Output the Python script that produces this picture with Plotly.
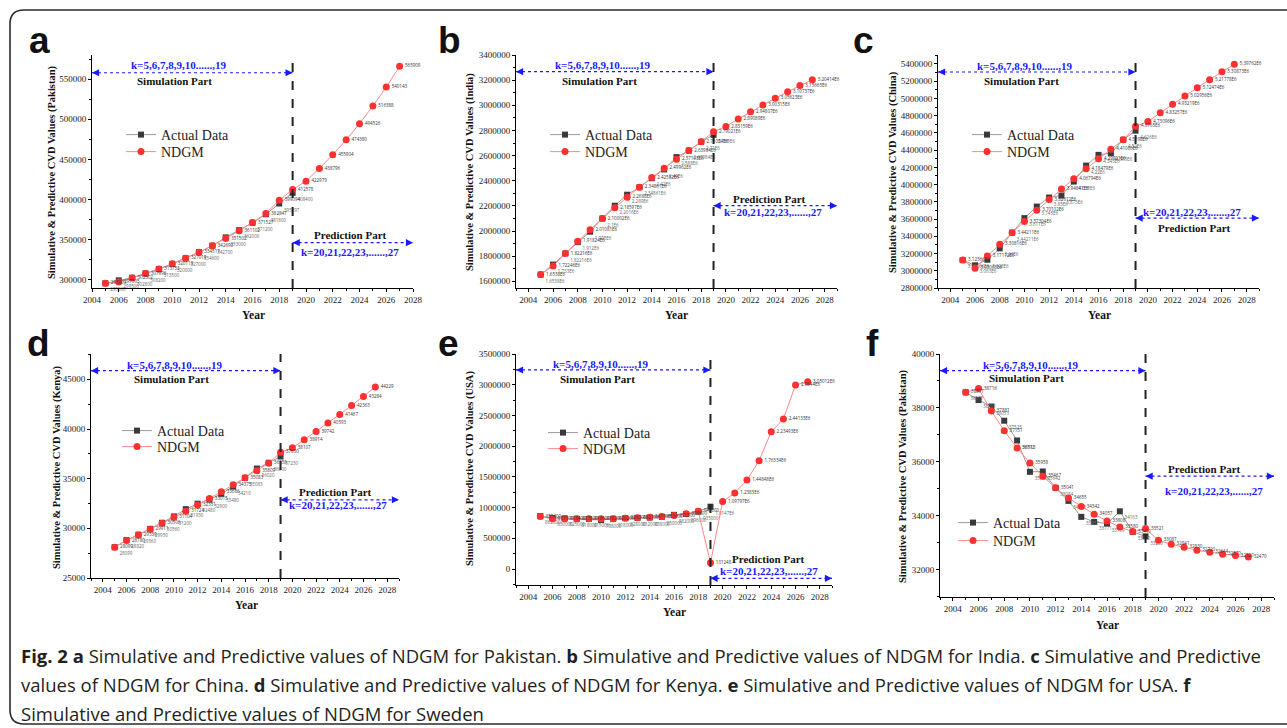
import plotly.graph_objects as go

W, H = 1287, 728

# ---------------- data ----------------
years_sim = list(range(2005, 2020))
years_all = list(range(2005, 2028))

pak_actual = [295800, 299500, 302800, 308200, 313500, 320000, 327000, 334600,
              342700, 353000, 362000, 371200, 381800, 395197, 408400]
pak_ndgm = [295800, 297505, 302502, 307996, 313753, 320113, 327019, 334517,
            342690, 351502, 361102, 371527, 382847, 399094, 412578, 422979,
            438796, 455904, 474380, 494526, 516388, 540143, 565909]

ind_actual = [1653800, 1733000, 1822160, 1912000, 1995000, 2100000, 2201600,
              2289000, 2348610, 2420000, 2490000, 2588000, 2639840, 2710000, 2765000]
ind_ndgm = [1653800, 1722460, 1822160, 1918240, 2010810, 2100020, 2185970,
            2268800, 2348610, 2425520, 2499620, 2571030, 2639840, 2710540,
            2790210, 2831590, 2890890, 2948070, 3003150, 3056230, 3107370,
            3156650, 3204140]

chn_actual = [3123660, 3063000, 3128000, 3260000, 3442110, 3611000, 3745000,
              3850000, 3873000, 4035000, 4220000, 4345000, 4365000, 4520000, 4626000]
chn_ndgm = [3123660, 3030630, 3171120, 3308160, 3442110, 3573040, 3701020,
            3826120, 3948410, 4067940, 4184790, 4299010, 4410660, 4519800,
            4676500, 4730960, 4832570, 4932190, 5029560, 5124740, 5217780,
            5308730, 5397620]

ken_actual = [28099, 28820, 29360, 29950, 30560, 31200, 31930, 32480, 32900,
              33480, 34210, 35083, 36020, 36600, 37230]
ken_ndgm = [28099, 28780, 29339, 29911, 30506, 31104, 31724, 32351, 33015,
            33686, 34375, 35083, 35809, 36558, 37650, 38107, 38914, 39742,
            40593, 41467, 42363, 43284, 44229]

usa_actual = [862000, 830000, 825000, 818000, 815000, 798000, 818000, 828000,
              832000, 838000, 850000, 882000, 896000, 935000, 1014700]
usa_ndgm = [855400, 817300, 818400, 817800, 818600, 818200, 820200, 826300,
            832700, 841700, 853600, 870500, 898600, 940600, 101248, 1097970,
            1238300, 1448480, 1763340, 2234930, 2441330, 2994400, 3050120]

swe_actual = [38577, 38291, 38053, 37525, 36792, 35628, 35642, 35034, 34550,
              33957, 33771, 33709, 34163, 33400, 33233]
swe_ndgm = [38577, 38716, 37881, 37151, 36513, 35958, 35467, 35041, 34655,
            34342, 34057, 33808, 33580, 33410, 33521, 33087, 32941, 32830,
            32720, 32644, 32570, 32520, 32470]

sim_text = "k=5,6,7,8,9,10......,19"
pred_text = "k=20,21,22,23,......,27"

# ---------------- layout config (pixels / data units) ----------------
panels = [
    dict(letter="a", country="Pakistan", actual=pak_actual, ndgm=pak_ndgm, sci=False,
         dom_x=(92, 413), dom_y=(55, 288), xr=(2004, 2028), yr=(290000, 580000),
         ytick0=300000, ydtick=50000, letter_xy=(39, 40),
         ytitle_xy=(52, 172), year_xy=(253, 315),
         sim_y=557900, sim_k=(2010.45, 567400), sim_p=(2010.2, 548000),
         pred_y=346400, pred_p=(2023.35, 356000), pred_k=(2023.3, 334400),
         legend_x=158, legend_y=(135, 152)),
    dict(letter="b", country="India", actual=ind_actual, ndgm=ind_ndgm, sci=True,
         dom_x=(516, 837), dom_y=(55, 288), xr=(2003, 2029), yr=(1547000, 3400000),
         ytick0=1600000, ydtick=200000, letter_xy=(449, 40),
         ytitle_xy=(470, 172), year_xy=(676, 315),
         sim_y=3267700, sim_k=(2009.97, 3320600), sim_p=(2009.76, 3196000),
         pred_y=2201600, pred_p=(2023.57, 2257000), pred_k=(2023.8, 2151000),
         legend_x=582, legend_y=(135, 152)),
    dict(letter="c", country="China", actual=chn_actual, ndgm=chn_ndgm, sci=True,
         dom_x=(938, 1259), dom_y=(55, 288), xr=(2003, 2029), yr=(2800000, 5504000),
         ytick0=2800000, ydtick=200000, letter_xy=(863, 40),
         ytitle_xy=(893, 172), year_xy=(1099, 315),
         sim_y=5307000, sim_k=(2010.0, 5380700), sim_p=(2009.74, 5207000),
         pred_y=3611000, pred_p=(2023.77, 3499000), pred_k=(2023.6, 3677000),
         legend_x=1004, legend_y=(135, 152)),
    dict(letter="d", country="Kenya", actual=ken_actual, ndgm=ken_ndgm, sci=False,
         dom_x=(91, 399), dom_y=(354, 578), xr=(2003, 2029), yr=(25000, 47550),
         ytick0=25000, ydtick=5000, letter_xy=(38, 343),
         ytitle_xy=(57, 467), year_xy=(246, 605),
         sim_y=45871, sim_k=(2010.03, 46440), sim_p=(2009.8, 45033),
         pred_y=32873, pred_p=(2023.6, 33610), pred_k=(2023.85, 32303),
         legend_x=154, legend_y=(431, 447)),
    dict(letter="e", country="USA", actual=usa_actual, ndgm=usa_ndgm, sci=True,
         dom_x=(516, 832), dom_y=(354, 585), xr=(2003, 2029), yr=(-260000, 3500000),
         ytick0=0, ydtick=500000, letter_xy=(448, 343),
         ytitle_xy=(470, 469), year_xy=(674, 612),
         sim_y=3240000, sim_k=(2009.94, 3337000), sim_p=(2009.72, 3088000),
         pred_y=-152000, pred_p=(2023.75, 157000), pred_k=(2023.78, -27000),
         legend_x=580, legend_y=(433, 449)),
    dict(letter="f", country="Pakistan", actual=swe_actual, ndgm=swe_ndgm, sci=False,
         dom_x=(940, 1274), dom_y=(354, 597), xr=(2003, 2029), yr=(30984, 40000),
         ytick0=32000, ydtick=2000, letter_xy=(872, 343),
         ytitle_xy=(903, 476), year_xy=(1107, 625),
         sim_y=39381, sim_k=(2010.03, 39591), sim_p=(2009.77, 39121),
         pred_y=35467, pred_p=(2023.6, 35715), pred_k=(2024.3, 34922),
         legend_x=990, legend_y=(523, 541)),
]

SERIF = "Liberation Serif, Times New Roman, serif"
BLUE = "#1a1aff"
LEG_DX = 37   # legend box left -> text start (px)
LEG_DY = 16   # legend box top -> item centre (px)


def px(x):
    return x / W


def py(y):
    return 1 - y / H


def fmt(v, sci):
    if sci and v >= 1e6:
        return f"{v / 1e6:.6g}E6"
    return f"{v:.0f}"


fig = go.Figure()
shapes, annotations = [], []
layout = {}
leg_n = 0
n_pan = len(panels)

for i, p in enumerate(panels, start=1):
    sfx = "" if i == 1 else str(i)
    xa, ya = f"x{sfx}", f"y{sfx}"

    series = [
        ("Actual Data", years_sim, p["actual"], "bottom right",
         dict(color="#9a9a9a", width=1), dict(symbol="square", size=6, color="#3a3a3a"), "#666"),
        ("NDGM", years_all, p["ndgm"], "middle right",
         dict(color="#ff8a8a", width=1), dict(symbol="circle", size=7, color="#ff3030"), "#333"),
    ]
    for j, (name, xs, ys, tpos, line, marker, tcol) in enumerate(series):
        leg_n += 1
        leg = "legend" if leg_n == 1 else f"legend{leg_n}"
        fig.add_trace(go.Scatter(
            x=xs, y=ys, mode="lines+markers+text", name=name,
            text=[fmt(v, p["sci"]) for v in ys], textposition=tpos,
            textfont=dict(size=4.5, color=tcol), line=line, marker=marker,
            xaxis=xa, yaxis=ya, legend=leg, cliponaxis=False, showlegend=True))
        layout[leg] = dict(
            x=px(p["legend_x"] - LEG_DX), y=py(p["legend_y"][j] - LEG_DY),
            xanchor="left", yanchor="top", bgcolor="rgba(0,0,0,0)", borderwidth=0,
            font=dict(family=SERIF, size=14, color="#222"), itemwidth=30)

    base = dict(showline=True, linecolor="black", linewidth=1, showgrid=False,
                zeroline=False, automargin=False, tickcolor="black",
                tickfont=dict(family=SERIF, size=9, color="#222"))
    xdom = [px(p["dom_x"][0]), px(p["dom_x"][1])]
    ydom = [py(p["dom_y"][1]), py(p["dom_y"][0])]
    # bottom / left axes: outward ticks with labels
    layout[f"xaxis{sfx}"] = dict(
        domain=xdom, range=list(p["xr"]), anchor=ya, tick0=2004, dtick=2,
        ticks="outside", ticklen=3,
        minor=dict(ticks="outside", ticklen=2, dtick=1, tickcolor="black"), **base)
    layout[f"yaxis{sfx}"] = dict(
        domain=ydom, range=list(p["yr"]), anchor=xa, tick0=p["ytick0"], dtick=p["ydtick"],
        tickformat="d", ticks="outside", ticklen=3,
        minor=dict(ticks="outside", ticklen=2, dtick=p["ydtick"] / 2, tickcolor="black"),
        **base)
    # top / right frame axes: inward ticks, no labels
    k = i + n_pan
    layout[f"xaxis{k}"] = dict(
        domain=xdom, range=list(p["xr"]), anchor=ya, overlaying=xa, side="top",
        tick0=2004, dtick=2, ticks="inside", ticklen=3, showticklabels=False,
        minor=dict(ticks="inside", ticklen=2, dtick=1, tickcolor="black"), **base)
    layout[f"yaxis{k}"] = dict(
        domain=ydom, range=list(p["yr"]), anchor=xa, overlaying=ya, side="right",
        tick0=p["ytick0"], dtick=p["ydtick"], ticks="inside", ticklen=3,
        showticklabels=False,
        minor=dict(ticks="inside", ticklen=2, dtick=p["ydtick"] / 2, tickcolor="black"),
        **base)

    shapes.append(dict(type="line", xref=xa, yref=f"{ya} domain", x0=2019, x1=2019,
                       y0=0, y1=1, line=dict(color="#222", width=2, dash="dash")))
    for x0, x1, yv in [(p["xr"][0], 2019, p["sim_y"]), (2019, p["xr"][1], p["pred_y"])]:
        shapes.append(dict(type="line", xref=xa, yref=ya, x0=x0, x1=x1, y0=yv, y1=yv,
                           line=dict(color=BLUE, width=1.2, dash="dot")))
        for tip, tail in [(x0, x0 + 0.6), (x1, x1 - 0.6)]:
            annotations.append(dict(x=tip, y=yv, ax=tail, ay=yv, xref=xa, yref=ya,
                                    axref=xa, ayref=ya, text="", showarrow=True,
                                    arrowhead=2, arrowsize=1.1, arrowwidth=1.3,
                                    arrowcolor=BLUE))
    for (tx, ty), txt, col in [(p["sim_k"], sim_text, BLUE),
                               (p["sim_p"], "Simulation Part", "#111"),
                               (p["pred_p"], "Prediction Part", "#111"),
                               (p["pred_k"], pred_text, BLUE)]:
        annotations.append(dict(x=tx, y=ty, xref=xa, yref=ya, text=f"<b>{txt}</b>",
                                showarrow=False, xanchor="center", yanchor="middle",
                                font=dict(family=SERIF, size=11, color=col)))
    annotations.append(dict(
        x=px(p["ytitle_xy"][0]), y=py(p["ytitle_xy"][1]), xref="paper", yref="paper",
        text=f"<b>Simulative & Predictive CVD Values ({p['country']})</b>", textangle=-90,
        showarrow=False, xanchor="center", yanchor="middle",
        font=dict(family=SERIF, size=10.5, color="#111")))
    annotations.append(dict(
        x=px(p["year_xy"][0]), y=py(p["year_xy"][1]), xref="paper", yref="paper",
        text="<b>Year</b>", showarrow=False, xanchor="center", yanchor="middle",
        font=dict(family=SERIF, size=11.5, color="#111")))
    annotations.append(dict(
        x=px(p["letter_xy"][0]), y=py(p["letter_xy"][1]), xref="paper", yref="paper",
        text=f"<b>{p['letter']}</b>", showarrow=False, xanchor="center", yanchor="middle",
        font=dict(family="Liberation Sans, Arial, sans-serif", size=37, color="#111")))

caption_lines = [
    "<b>Fig. 2 a</b> Simulative and Predictive values of NDGM for Pakistan. <b>b</b> Simulative and "
    "Predictive values of NDGM for India. <b>c</b> Simulative and Predictive",
    "values of NDGM for China. <b>d</b> Simulative and Predictive values of NDGM for Kenya. "
    "<b>e</b> Simulative and Predictive values of NDGM for USA. <b>f</b>",
    "Simulative and Predictive values of NDGM for Sweden",
]
for k, line in enumerate(caption_lines):
    annotations.append(dict(
        x=px(19), y=py(655 + 29 * k), xref="paper", yref="paper", text=line,
        showarrow=False, xanchor="left", yanchor="middle",
        font=dict(family="Open Sans, Noto Sans, sans-serif", size=18.5, color="#231f20")))

# outer rounded frame (open on the right, runs off the canvas)
rx, ry = 14 / W, 14 / H
x0, y0, xe, y1 = px(10), py(10), 1.0, py(724)
path = (f"M {xe},{y0} L {x0 + rx},{y0} Q {x0},{y0} {x0},{y0 - ry} "
        f"L {x0},{y1 + ry} Q {x0},{y1} {x0 + rx},{y1} L {xe},{y1}")
shapes.append(dict(type="path", xref="paper", yref="paper", path=path,
                   line=dict(color="#2a2a2a", width=1.6)))

fig.update_layout(
    width=W, height=H, margin=dict(l=0, r=0, t=0, b=0), showlegend=True,
    paper_bgcolor="white", plot_bgcolor="white",
    shapes=shapes, annotations=annotations, **layout)

fig.write_html("out.html", post_script="document.body.style.margin='0px';",
               config={"displayModeBar": False})
